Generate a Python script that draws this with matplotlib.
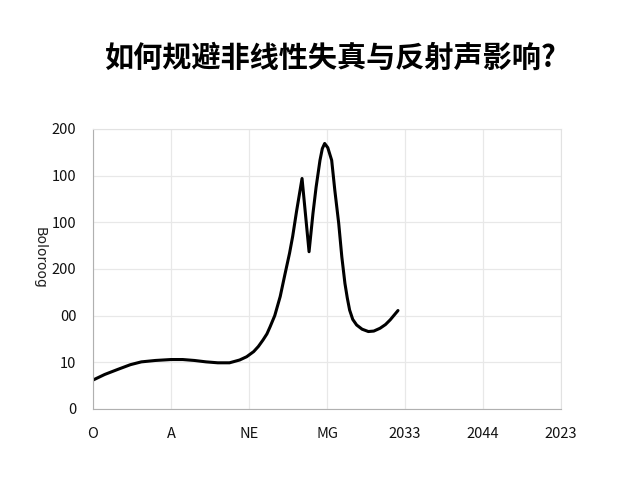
"""Line chart: nonlinear distortion / reflection curve."""

import matplotlib.pyplot as plt

plt.rcParams['font.family'] = ['Noto Sans CJK SC', 'DejaVu Sans']

title = '如何规避非线性失真与反射声影响?'
y_label = 'Boloroog'

x_tick_labels = ['O', 'A', 'NE', 'MG', '2033', '2044', '2023']
y_tick_labels = ['0', '10', '00', '200', '100', '100', '200']

# curve (x and y in tick units)
curve_x = [0.00, 0.15, 0.32, 0.48, 0.62, 0.80, 1.00, 1.15, 1.30, 1.45, 1.60,
           1.75, 1.88, 1.97, 2.06, 2.12, 2.18, 2.23, 2.27, 2.33, 2.40, 2.46,
           2.52, 2.56, 2.61, 2.68, 2.77, 2.82, 2.86, 2.91, 2.94, 2.97, 3.01,
           3.06, 3.10, 3.15, 3.19, 3.23, 3.26, 3.29, 3.33, 3.38, 3.45, 3.53,
           3.60, 3.68, 3.75, 3.81, 3.91]
curve_y = [0.62, 0.74, 0.85, 0.95, 1.01, 1.04, 1.06, 1.06, 1.04, 1.01, 0.99,
           0.99, 1.05, 1.12, 1.23, 1.34, 1.48, 1.61, 1.76, 2.00, 2.41, 2.88,
           3.34, 3.70, 4.24, 4.94, 3.37, 4.19, 4.75, 5.33, 5.58, 5.69, 5.60,
           5.33, 4.69, 3.98, 3.26, 2.69, 2.38, 2.12, 1.92, 1.80, 1.71, 1.66,
           1.67, 1.73, 1.81, 1.91, 2.11]

fig = plt.figure(figsize=(6.4, 4.8), dpi=100)
ax = fig.add_axes([93 / 640, 71 / 480, 468 / 640, 280 / 480])

ax.plot(curve_x, curve_y, color='black', lw=2.2, solid_capstyle='round',
        solid_joinstyle='round')

ax.set_xlim(0, 6)
ax.set_ylim(0, 6)
ax.set_xticks(range(len(x_tick_labels)))
ax.set_xticklabels(x_tick_labels)
ax.set_yticks(range(len(y_tick_labels)))
ax.set_yticklabels(y_tick_labels)
ax.tick_params(length=0, labelsize=10.5, colors='#111111')
ax.tick_params(axis='x', pad=13)
ax.tick_params(axis='y', pad=12)

ax.grid(True, color='#e8e8e8', lw=0.9)
ax.set_axisbelow(True)
for side in ('top', 'right'):
    ax.spines[side].set_color('#e2e2e2')
for side in ('left', 'bottom'):
    ax.spines[side].set_color('#b0b0b0')

fig.text(40 / 640, 1 - 258 / 480, y_label, rotation=270, ha='center',
         va='center', fontsize=10, family='DejaVu Sans', color='#222222')

fig.text(330 / 640, 1 - 58 / 480, title, ha='center', va='center',
         fontsize=21, fontweight='bold')

fig.savefig('out.png', dpi=100)
